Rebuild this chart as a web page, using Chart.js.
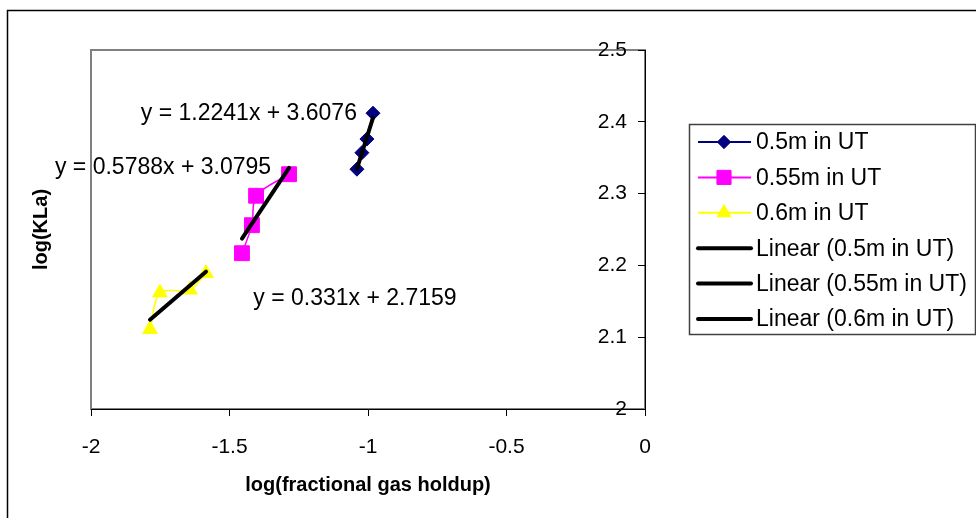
<!DOCTYPE html>
<html>
<head>
<meta charset="utf-8">
<script src="https://cdn.jsdelivr.net/npm/chart.js@4.4.0/dist/chart.umd.min.js"></script>
<style>
  html, body { margin: 0; padding: 0; background: #fff; }
  canvas { display: block; }
</style>
</head>
<body>
<canvas id="klaChart" width="976" height="518"></canvas>
<script>
// series
const seriesNames = ['0.5m in UT', '0.55m in UT', '0.6m in UT'];
// log(fractional gas holdup) / log(KLa)
const x05 = [-1.040, -1.022, -1.004, -0.982];
const y05 = [2.334, 2.357, 2.376, 2.412];
const x055 = [-1.455, -1.419, -1.404, -1.285];
const y055 = [2.217, 2.256, 2.297, 2.327];
const x06 = [-1.787, -1.751, -1.643, -1.585];
const y06 = [2.111, 2.162, 2.166, 2.189];
// linear trendlines printed on the chart
const slopes = [1.2241, 0.5788, 0.331];
const intercepts = [3.6076, 3.0795, 2.7159];
const equations = ['y = 1.2241x + 3.6076', 'y = 0.5788x + 3.0795', 'y = 0.331x + 2.7159'];
// axis ticks
const xTicks = [-2, -1.5, -1, -0.5, 0];
const yTicks = [2, 2.1, 2.2, 2.3, 2.4, 2.5];

// where the equation labels sit (data coords)
const eqAnchors = [[-1.430, 2.411], [-1.740, 2.336], [-1.047, 2.154]];

const FONT = '"Liberation Sans", Arial, sans-serif';
const colors = ['#000080', '#ff00ff', '#ffff00'];
const markers = ['rectRot', 'rect', 'triangle'];
const radii = [7, 10.5, 8.5];

const xs = [x05, x055, x06];
const ys = [y05, y055, y06];

const datasets = [];
seriesNames.forEach((name, i) => {
    datasets.push({
        label: name,
        data: xs[i].map((x, j) => ({ x: x, y: ys[i][j] })),
        showLine: true,
        borderColor: colors[i],
        backgroundColor: colors[i],
        borderWidth: 1.5,
        pointStyle: markers[i],
        pointRadius: radii[i],
        pointBorderWidth: 1,
        tension: 0.3,
        order: 1
    });
});
seriesNames.forEach((name, i) => {
    const lo = Math.min(...xs[i]);
    const hi = Math.max(...xs[i]);
    datasets.push({
        label: 'Linear (' + name + ')',
        data: [lo, hi].map(x => ({ x: x, y: slopes[i] * x + intercepts[i] })),
        showLine: true,
        borderColor: '#000',
        backgroundColor: '#000',
        borderWidth: 4,
        borderCapStyle: 'round',
        pointRadius: 0,
        trend: true,
        order: 0
    });
});

// frame, plot-area border, equations and the legend box
const decor = {
    id: 'decor',
    beforeDraw(chart) {
        const ctx = chart.ctx;
        const a = chart.chartArea;
        ctx.save();
        ctx.strokeStyle = '#000';
        ctx.lineWidth = 1.5;
        ctx.strokeRect(7.5, 10.5, 1200, 800);
        ctx.strokeStyle = '#808080';
        ctx.lineWidth = 2;
        ctx.strokeRect(a.left, a.top, a.right - a.left, a.bottom - a.top);
        ctx.restore();
    },
    afterDatasetsDraw(chart) {
        const ctx = chart.ctx;
        const sx = chart.scales.x, sy = chart.scales.y;
        ctx.save();
        ctx.font = '23px ' + FONT;
        ctx.fillStyle = '#000';
        ctx.textAlign = 'center';
        ctx.textBaseline = 'middle';
        equations.forEach((t, i) => {
            ctx.fillText(t, sx.getPixelForValue(eqAnchors[i][0]), sy.getPixelForValue(eqAnchors[i][1]));
        });
        ctx.restore();
    },
    afterDraw(chart) {
        const ctx = chart.ctx;
        const box = { left: 689, top: 124, width: 286, height: 210 };
        ctx.save();
        ctx.fillStyle = '#fff';
        ctx.fillRect(box.left, box.top, box.width, box.height);
        ctx.strokeStyle = '#404040';
        ctx.lineWidth = 1.5;
        ctx.strokeRect(box.left + 0.5, box.top + 0.5, box.width, box.height);
        ctx.font = '23px ' + FONT;
        ctx.textBaseline = 'middle';
        ctx.textAlign = 'left';
        chart.data.datasets.forEach((ds, i) => {
            const y = box.top + 18 + i * 35.4;
            ctx.strokeStyle = ds.borderColor;
            ctx.lineWidth = ds.trend ? 4 : 2;
            ctx.lineCap = ds.trend ? 'round' : 'butt';
            ctx.beginPath();
            ctx.moveTo(698, y);
            ctx.lineTo(751, y);
            ctx.stroke();
            if (!ds.trend) {
                ctx.fillStyle = ds.backgroundColor;
                ctx.strokeStyle = ds.borderColor;
                ctx.lineWidth = 1;
                Chart.helpers.drawPoint(ctx, { pointStyle: ds.pointStyle, radius: ds.pointRadius * 0.95, borderWidth: 1 }, 724, y);
            }
            ctx.fillStyle = '#000';
            ctx.fillText(ds.label, 756, y + 1);
        });
        ctx.restore();
    }
};

new Chart(document.getElementById('klaChart'), {
    type: 'scatter',
    data: { datasets: datasets },
    options: {
        responsive: false,
        animation: false,
        events: [],
        layout: { padding: { left: 10, top: 50, right: 321, bottom: 19 } },
        plugins: { legend: { display: false }, tooltip: { enabled: false } },
        scales: {
            x: {
                type: 'linear',
                position: 'bottom',
                min: -2,
                max: 0,
                afterBuildTicks: s => { s.ticks = xTicks.map(v => ({ value: v })); },
                afterFit: s => { s.height = 90; },
                grid: { display: true, drawOnChartArea: false, drawTicks: true, tickLength: 7, color: '#000' },
                border: { display: true, color: '#000', width: 1 },
                ticks: { autoSkip: false, maxRotation: 0, padding: 19, color: '#000', font: { family: FONT, size: 21 }, callback: v => String(v) },
                title: { display: true, text: 'log(fractional gas holdup)', color: '#000', padding: { top: 0, bottom: 2 }, font: { family: FONT, size: 20, weight: 'bold' } }
            },
            y: {
                type: 'linear',
                position: 'right',
                min: 2,
                max: 2.5,
                afterBuildTicks: s => { s.ticks = yTicks.map(v => ({ value: v })); },
                afterFit: s => { s.width = 10; },
                grid: { display: true, drawOnChartArea: false, drawTicks: true, tickLength: -7, color: '#000' },
                border: { display: true, color: '#000', width: 1 },
                ticks: { mirror: true, autoSkip: false, padding: -18, color: '#000', font: { family: FONT, size: 21 }, callback: v => String(v) }
            },
            yTitle: {
                type: 'linear',
                position: 'left',
                min: 2,
                max: 2.5,
                afterFit: s => { s.width = 81; },
                grid: { display: false },
                border: { display: false },
                ticks: { display: false },
                title: { display: true, text: 'log(KLa)', color: '#000', padding: { top: 19, bottom: 0 }, font: { family: FONT, size: 20, weight: 'bold' } }
            }
        }
    },
    plugins: [decor]
});
</script>
</body>
</html>
